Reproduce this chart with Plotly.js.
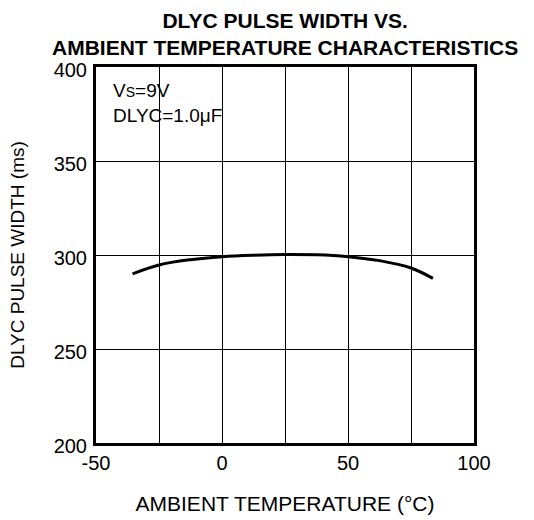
<!DOCTYPE html>
<html>
<head>
<meta charset="utf-8">
<script src="https://cdn.plot.ly/plotly-3.0.1.min.js"></script>
<style>
  body { margin: 0; background: #fff; }
  #chart { width: 534px; height: 520px; }
</style>
</head>
<body>
<div id="chart"></div>
<script>
// values
var temps = [-35.5, -25, -12.5, 0, 12.5, 25, 37.5, 50, 62.5, 75, 83.7];
var pulseWidth = [290, 294.7, 297.5, 299.1, 299.9, 300.3, 300.1, 299.1, 297, 293.1, 287.6];

var xTicks = [-50, -25, 0, 25, 50, 75, 100];
var xTickText = ['-50', '', '0', '', '50', '', '100'];
var yTicks = [200, 250, 300, 350, 400];

var trace = {
  x: temps,
  y: pulseWidth,
  mode: 'lines',
  line: {color: '#000', width: 3, shape: 'spline', smoothing: 1},
  hoverinfo: 'skip',
  type: 'scatter'
};

var font = 'Liberation Sans, Arial, sans-serif';

var layout = {
  width: 534,
  height: 520,
  margin: {l: 96, r: 60, t: 67, b: 77},
  paper_bgcolor: '#fff',
  plot_bgcolor: '#fff',
  showlegend: false,
  font: {family: font, size: 16, color: '#000'},
  title: {
    text: '<b>DLYC PULSE WIDTH VS.<br>AMBIENT TEMPERATURE CHARACTERISTICS</b>',
    font: {family: font, size: 21, color: '#000'},
    x: 0.534, xanchor: 'center',
    yref: 'container', y: 0.946, yanchor: 'middle'
  },
  xaxis: {
    range: [-50, 100],
    tickvals: xTicks,
    ticktext: xTickText,
    showgrid: true,
    gridcolor: '#000',
    gridwidth: 1,
    zeroline: false,
    showline: true,
    mirror: true,
    linecolor: '#000',
    linewidth: 3,
    ticks: '',
    ticklabelstandoff: 0,
    tickfont: {family: font, size: 20},
    title: {text: 'AMBIENT TEMPERATURE (°C)', font: {family: font, size: 21}, standoff: 24}
  },
  yaxis: {
    range: [200, 400],
    tickvals: yTicks,
    showgrid: true,
    gridcolor: '#000',
    gridwidth: 1,
    zeroline: false,
    showline: true,
    mirror: true,
    linecolor: '#000',
    linewidth: 3,
    ticks: '',
    ticklabelshift: 3,
    ticklabelstandoff: 2,
    tickfont: {family: font, size: 20},
    title: {text: 'DLYC PULSE WIDTH (ms)', font: {family: font, size: 19}, standoff: 24}
  },
  annotations: [
    {
      xref: 'paper', yref: 'paper', x: 0.04, y: 0.97,
      xanchor: 'left', yanchor: 'top', align: 'left', showarrow: false,
      text: 'V<span style="font-size:14px">S</span>=9V<br>DLYC=1.0μF',
      font: {family: font, size: 19, color: '#000'}
    }
  ]
};

Plotly.newPlot('chart', [trace], layout, {displayModeBar: false, staticPlot: true});
</script>
</body>
</html>
